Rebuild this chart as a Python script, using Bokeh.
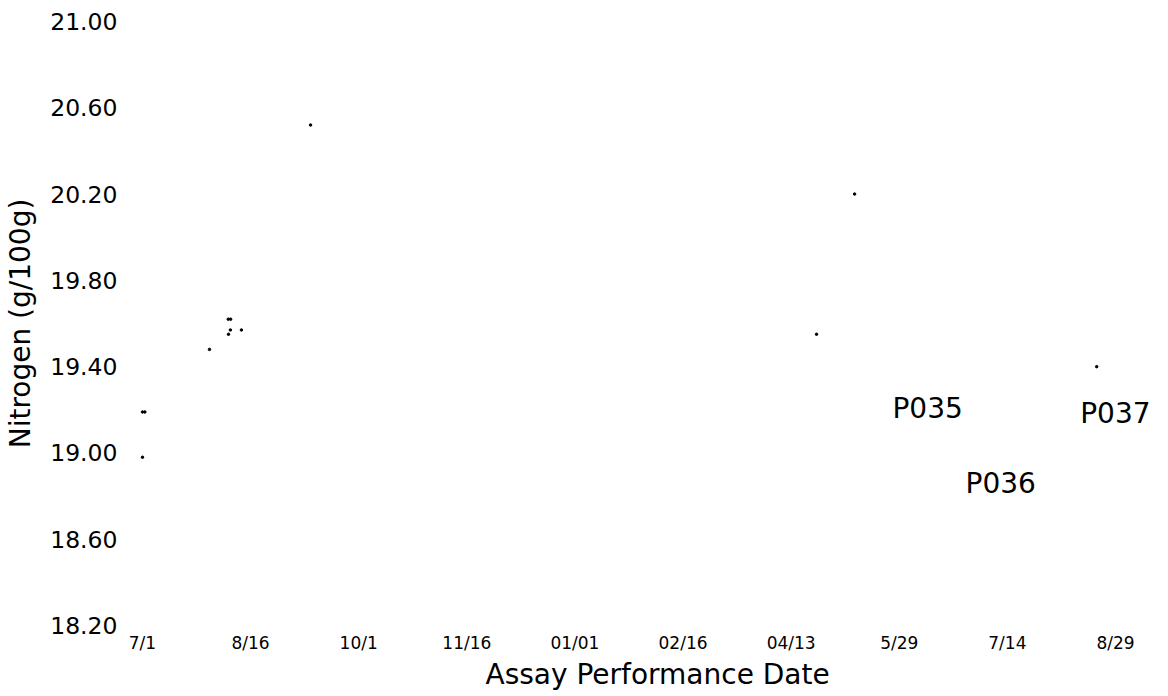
from bokeh.plotting import figure
from bokeh.models import FixedTicker, PrintfTickFormatter, LabelSet, ColumnDataSource, Range1d, Title
from bokeh.core.properties import value
from bokeh.embed import file_html
from bokeh.resources import INLINE

# ---- data (x = days after 7/1, y = nitrogen g/100g) ----
assay_day = [0, 1, 0, 28.5, 36.6, 37.4, 36.5, 37.5, 42.1, 71.5, 286.8, 303, 406]
nitrogen = [19.19, 19.19, 18.98, 19.48, 19.55, 19.57, 19.62, 19.62, 19.57, 20.52, 19.55, 20.20, 19.40]

lot_names = ["P035", "P036", "P037"]
lot_day = [319.1, 350.2, 399.0]
lot_value = [19.206, 18.858, 19.183]

x_tick_days = [0, 46, 92, 138, 184, 230, 276, 322, 368, 414]
x_tick_labels = ["7/1", "8/16", "10/1", "11/16", "01/01", "02/16", "04/13", "5/29", "7/14", "8/29"]
y_ticks = [18.2, 18.6, 19.0, 19.4, 19.8, 20.2, 20.6, 21.0]

FONT = "DejaVu Sans"

p = figure(width=1152, height=690, output_backend="svg", toolbar_location=None,
           x_range=Range1d(-7.23, 428.9), y_range=Range1d(18.2, 21.0),
           min_border_left=125, min_border_right=2, min_border_top=21, min_border_bottom=60)
p.background_fill_color = "white"
p.border_fill_color = "white"
p.outline_line_color = None
p.grid.visible = False

src = ColumnDataSource(dict(x=assay_day, y=nitrogen))
p.scatter("x", "y", source=src, size=2.5, color="black")

lsrc = ColumnDataSource(dict(x=lot_day, y=lot_value, t=lot_names))
p.add_layout(LabelSet(x="x", y="y", text="t", source=lsrc, text_font=value(FONT),
                      text_font_size="28px", text_color="black",
                      text_baseline="middle", text_align="left"))

xa = p.xaxis[0]
xa.ticker = FixedTicker(ticks=x_tick_days)
xa.major_label_overrides = {d: s for d, s in zip(x_tick_days, x_tick_labels)}
xa.axis_line_color = None
xa.major_tick_line_color = None
xa.minor_tick_line_color = None
xa.major_tick_out = 0
xa.major_tick_in = 0
xa.major_label_standoff = 7
xa.major_label_text_font = FONT
xa.major_label_text_font_size = "17px"
xa.major_label_text_color = "black"

ya = p.yaxis[0]
ya.ticker = FixedTicker(ticks=y_ticks)
ya.formatter = PrintfTickFormatter(format="%.2f")
ya.axis_line_color = None
ya.major_tick_line_color = None
ya.minor_tick_line_color = None
ya.major_tick_out = 0
ya.major_tick_in = 0
ya.major_label_standoff = 8
ya.major_label_text_font = FONT
ya.major_label_text_font_size = "23.5px"
ya.major_label_text_color = "black"
ya.axis_label = "Nitrogen (g/100g)"
ya.axis_label_text_font = FONT
ya.axis_label_text_font_size = "28px"
ya.axis_label_text_font_style = "normal"
ya.axis_label_text_color = "black"
ya.axis_label_standoff = 10

p.add_layout(Title(text="Assay Performance Date", align="left", offset=360,
                   text_font=FONT, text_font_size="28px", text_font_style="normal",
                   text_color="black", standoff=0, vertical_align="bottom"), "below")

open("out.html", "w").write(file_html(p, INLINE))
